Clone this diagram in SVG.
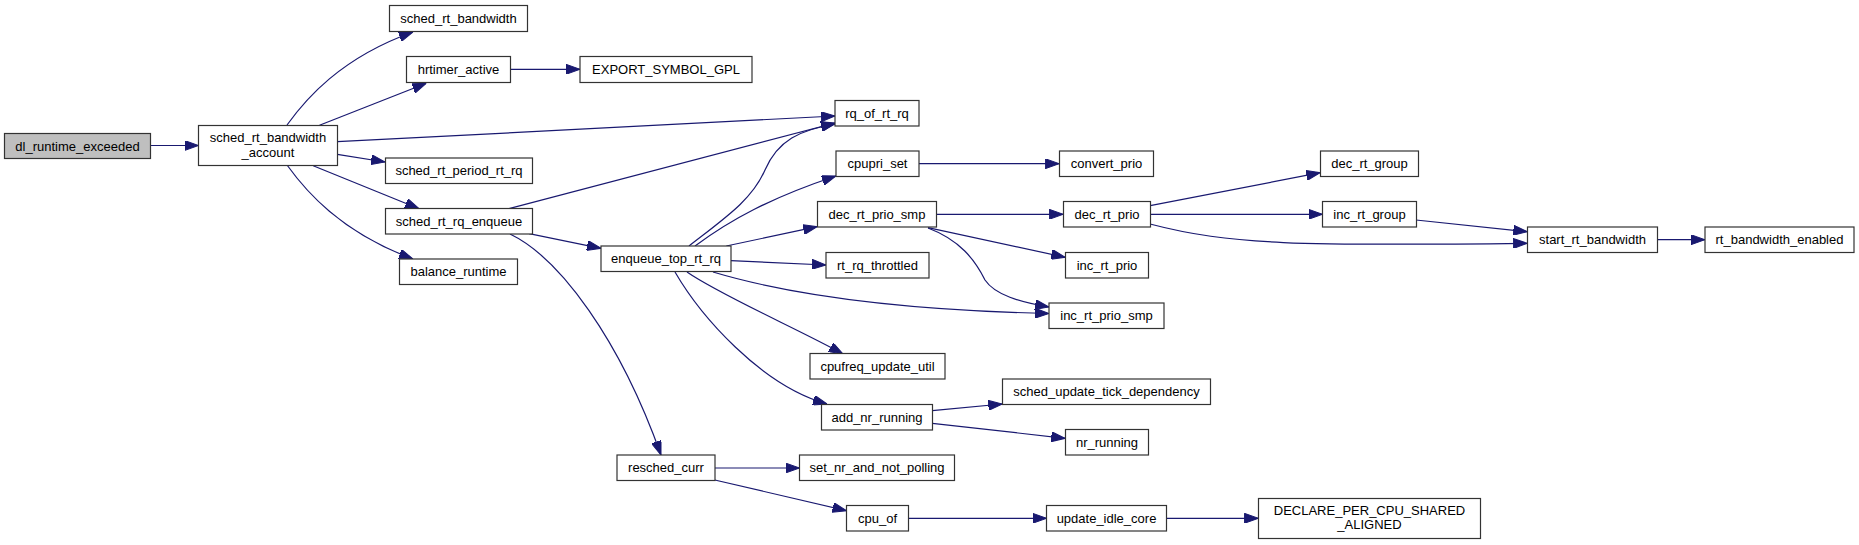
<svg xmlns="http://www.w3.org/2000/svg" width="1859" height="545" viewBox="0 0 1859 545">
<style>
.n rect{fill:#fff;stroke:#333;stroke-width:1.2}
.n.root rect{fill:#bfbfbf}
.n text{font-family:"Liberation Sans",Arial,sans-serif;font-size:13px;fill:#000;text-anchor:middle}
.e path{fill:none;stroke:#191970;stroke-width:1.2;marker-end:url(#ah)}
</style>
<defs>
<marker id="ah" markerUnits="userSpaceOnUse" viewBox="0 0 14 10" refX="14" refY="5" markerWidth="14" markerHeight="10" orient="auto">
<path d="M0,0 L14,5 L0,10 z" fill="#191970" stroke="#191970" stroke-width="1"/>
</marker>
</defs>
<rect width="1859" height="545" fill="#fff"/>
<g id="connectors" class="e">
<path d="M150.6,145.5 L198.5,145.5"/>
<path d="M287,125 C305,100 340,58 413,32"/>
<path d="M319.5,125.3 L426.3,83.3"/>
<path d="M510.5,69.3 L580,69.3"/>
<path d="M337.3,141.7 L835,116"/>
<path d="M337.3,154.3 L385.1,162"/>
<path d="M313.2,165.7 L419.1,208.7"/>
<path d="M287,165 C305,190 340,232 413,259"/>
<path d="M509,208.7 L835,123"/>
<path d="M529.1,233.7 L601,248.3"/>
<path d="M510,234 C560,258 620,340 661,455"/>
<path d="M689,246 C725,218 752,200 765,170 C778,140 800,130 835,124"/>
<path d="M695,246 C730,220 770,198 836,176"/>
<path d="M726.3,246 L817.2,226.7"/>
<path d="M730.7,260.7 L826,265"/>
<path d="M713,272 C790,295 900,310 1049,313.5"/>
<path d="M687,272 C720,295 800,330 843,354"/>
<path d="M675,272 C700,315 760,385 827,404"/>
<path d="M936.7,214.3 L1063.2,214.3"/>
<path d="M928,227.7 L1065.2,257.3"/>
<path d="M928,228 C960,240 975,260 985,280 C995,295 1020,302 1049,307"/>
<path d="M918.9,163.7 L1059.2,163.7"/>
<path d="M1150.2,205.7 L1320.3,172.7"/>
<path d="M1150.2,214.3 L1322.5,214.3"/>
<path d="M1150,224 C1230,245 1300,246 1527.3,243.3"/>
<path d="M1416,220 L1527.3,231.7"/>
<path d="M1657.3,239.7 L1704.9,239.7"/>
<path d="M932.3,410.7 L1002.3,404"/>
<path d="M932.3,423.3 L1065.2,438.3"/>
<path d="M714.8,468 L799.5,468"/>
<path d="M714.8,480 L846.5,510.7"/>
<path d="M908.2,518.3 L1046.6,518.3"/>
<path d="M1166.8,518.3 L1258.4,518.3"/>
</g>
<g id="dl_runtime_exceeded" class="n root"><rect x="4.5" y="133.5" width="146" height="25"/><text x="77.5" y="150.5">dl_runtime_exceeded</text></g>
<g id="sched_rt_bandwidth_account" class="n"><rect x="198.5" y="125.5" width="139" height="40"/><text x="268" y="141.5">sched_rt_bandwidth</text><text x="268" y="156.5">_account</text></g>
<g id="sched_rt_bandwidth" class="n"><rect x="389.5" y="5.5" width="138" height="26"/><text x="458.5" y="23">sched_rt_bandwidth</text></g>
<g id="hrtimer_active" class="n"><rect x="406.5" y="56.5" width="104" height="26"/><text x="458.5" y="74">hrtimer_active</text></g>
<g id="EXPORT_SYMBOL_GPL" class="n"><rect x="580" y="56.5" width="172" height="26"/><text x="666" y="74">EXPORT_SYMBOL_GPL</text></g>
<g id="sched_rt_period_rt_rq" class="n"><rect x="385.5" y="158" width="147" height="25.5"/><text x="459" y="175.2">sched_rt_period_rt_rq</text></g>
<g id="sched_rt_rq_enqueue" class="n"><rect x="385.5" y="208.5" width="147" height="25.5"/><text x="459" y="225.7">sched_rt_rq_enqueue</text></g>
<g id="balance_runtime" class="n"><rect x="399.5" y="259" width="118" height="25.5"/><text x="458.5" y="276.2">balance_runtime</text></g>
<g id="rq_of_rt_rq" class="n"><rect x="835" y="100.5" width="84" height="25.5"/><text x="877" y="117.7">rq_of_rt_rq</text></g>
<g id="cpupri_set" class="n"><rect x="836" y="151" width="83" height="25.5"/><text x="877.5" y="168.2">cpupri_set</text></g>
<g id="convert_prio" class="n"><rect x="1059.5" y="151" width="94" height="25.5"/><text x="1106.5" y="168.2">convert_prio</text></g>
<g id="dec_rt_prio_smp" class="n"><rect x="817.5" y="201.5" width="119" height="25.5"/><text x="877" y="218.7">dec_rt_prio_smp</text></g>
<g id="dec_rt_prio" class="n"><rect x="1063.5" y="201.5" width="87" height="25.5"/><text x="1107" y="218.7">dec_rt_prio</text></g>
<g id="enqueue_top_rt_rq" class="n"><rect x="601" y="246" width="130" height="25.5"/><text x="666" y="263.2">enqueue_top_rt_rq</text></g>
<g id="rt_rq_throttled" class="n"><rect x="826" y="252.5" width="103" height="25.5"/><text x="877.5" y="269.7">rt_rq_throttled</text></g>
<g id="inc_rt_prio" class="n"><rect x="1065.5" y="252.5" width="83" height="25.5"/><text x="1107" y="269.7">inc_rt_prio</text></g>
<g id="dec_rt_group" class="n"><rect x="1320.5" y="151" width="98" height="25.5"/><text x="1369.5" y="168.2">dec_rt_group</text></g>
<g id="inc_rt_group" class="n"><rect x="1322.5" y="201.5" width="94" height="25.5"/><text x="1369.5" y="218.7">inc_rt_group</text></g>
<g id="start_rt_bandwidth" class="n"><rect x="1527.5" y="227" width="130" height="25.5"/><text x="1592.5" y="244.2">start_rt_bandwidth</text></g>
<g id="rt_bandwidth_enabled" class="n"><rect x="1705" y="227" width="149" height="25.5"/><text x="1779.5" y="244.2">rt_bandwidth_enabled</text></g>
<g id="inc_rt_prio_smp" class="n"><rect x="1049" y="303" width="115" height="25.5"/><text x="1106.5" y="320.2">inc_rt_prio_smp</text></g>
<g id="cpufreq_update_util" class="n"><rect x="810" y="353.5" width="135" height="25.5"/><text x="877.5" y="370.7">cpufreq_update_util</text></g>
<g id="sched_update_tick_dependency" class="n"><rect x="1002.5" y="379" width="208" height="25.5"/><text x="1106.5" y="396.2">sched_update_tick_dependency</text></g>
<g id="add_nr_running" class="n"><rect x="821.5" y="404.5" width="111" height="25.5"/><text x="877" y="421.7">add_nr_running</text></g>
<g id="nr_running" class="n"><rect x="1065.5" y="429.5" width="83" height="25.5"/><text x="1107" y="446.7">nr_running</text></g>
<g id="resched_curr" class="n"><rect x="617" y="455" width="98" height="25.5"/><text x="666" y="472.2">resched_curr</text></g>
<g id="set_nr_and_not_polling" class="n"><rect x="799.5" y="455" width="155" height="25.5"/><text x="877" y="472.2">set_nr_and_not_polling</text></g>
<g id="cpu_of" class="n"><rect x="846.5" y="505.5" width="62" height="25.5"/><text x="877.5" y="522.7">cpu_of</text></g>
<g id="update_idle_core" class="n"><rect x="1046.5" y="505.5" width="120" height="25.5"/><text x="1106.5" y="522.7">update_idle_core</text></g>
<g id="DECLARE_PER_CPU_SHARED_ALIGNED" class="n"><rect x="1258.5" y="498.5" width="222" height="40"/><text x="1369.5" y="514.5">DECLARE_PER_CPU_SHARED</text><text x="1369.5" y="529">_ALIGNED</text></g>
</svg>
